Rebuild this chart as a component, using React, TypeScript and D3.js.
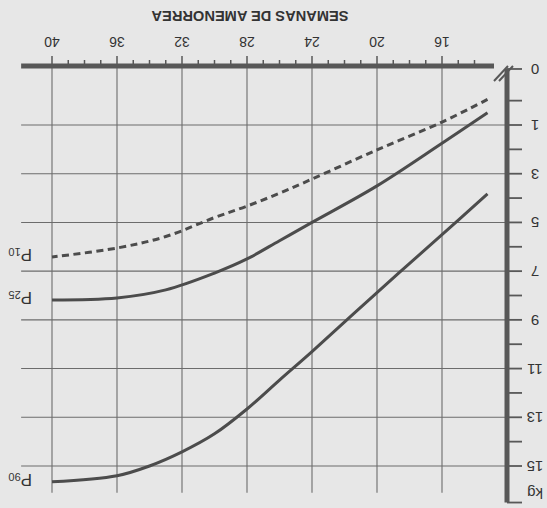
import React, { useEffect, useRef } from "react";
import * as d3 from "d3";

// percentile curves, weeks of amenorrhea -> kg gained
const weeksP10 = [40, 36, 33, 30, 28, 26, 24, 20, 16, 13.2];
const kgP10 = [6.42, 6.05, 5.58, 4.8, 4.33, 3.8, 3.22, 2.02, 0.88, -0.05];
const weeksP25 = [40, 36, 33, 30, 28, 26, 24, 20, 16, 13.2];
const kgP25 = [8.18, 8.1, 7.77, 7.08, 6.5, 5.75, 5.0, 3.5, 1.75, 0.5];
const weeksP90 = [40, 36, 34, 32, 30, 28, 26, 24, 20, 16, 13.2];
const kgP90 = [15.65, 15.4, 15.0, 14.42, 13.68, 12.66, 11.47, 10.3, 7.88, 5.5, 3.83];

const weekTicks = [16, 20, 24, 28, 32, 36, 40];
const kgTicks = [1, 3, 5, 7, 9, 11, 13, 15];
const kgMinorTicks = [0, 2, 4, 6, 8, 10, 12, 14];

const App = () => {
    const svgRef = useRef<SVGSVGElement>(null);

    useEffect(() => {
        const svg = d3.select(svgRef.current);
        svg.selectAll("*").remove();

        const width = 547;
        const height = 508;
        const axisColor = "#585858";
        const gridColor = "#6c6c6c";
        const curveColor = "#4c4c4c";
        const textColor = "#333333";
        const font = "'Liberation Sans', Arial, Helvetica, sans-serif";

        const kgMin = -1.3; // axis start, labelled "0"
        const kgMax = 16.5; // axis end, labelled "kg"

        const xScale = d3.scaleLinear().domain([12, 40]).range([40, 495]);
        const yScale = d3.scaleLinear().domain([1, 15]).range([383, 42]);
        const xAxisY = yScale(kgMin) + 3;

        svg.attr("width", width).attr("height", height);
        svg.append("rect").attr("width", width).attr("height", height).attr("fill", "#e7e7e7");

        // the scanned page is upside down
        const g = svg.append("g").attr("transform", `rotate(180, ${width / 2}, ${height / 2})`);

        // grid
        g.selectAll(".hgrid")
            .data(kgTicks)
            .enter()
            .append("line")
            .attr("x1", xScale(12))
            .attr("x2", xScale(41.9))
            .attr("y1", (d) => yScale(d))
            .attr("y2", (d) => yScale(d))
            .style("stroke", gridColor)
            .style("stroke-width", 1.1);

        g.selectAll(".vgrid")
            .data(weekTicks)
            .enter()
            .append("line")
            .attr("x1", (d) => xScale(d))
            .attr("x2", (d) => xScale(d))
            .attr("y1", xAxisY)
            .attr("y2", yScale(16.1))
            .style("stroke", gridColor)
            .style("stroke-width", 1.1);

        // curves
        const line = d3
            .line<[number, number]>()
            .x((d) => xScale(d[0]))
            .y((d) => yScale(d[1]))
            .curve(d3.curveCatmullRom.alpha(0.5));

        const series = [
            { weeks: weeksP10, kg: kgP10, label: "10", dashed: true },
            { weeks: weeksP25, kg: kgP25, label: "25", dashed: false },
            { weeks: weeksP90, kg: kgP90, label: "90", dashed: false },
        ];

        for (let s of series) {
            const pts = s.weeks.map((w, i) => [w, s.kg[i]] as [number, number]).sort((a, b) => a[0] - b[0]);
            g.append("path")
                .attr("d", line(pts))
                .style("fill", "none")
                .style("stroke", curveColor)
                .style("stroke-width", 3)
                .style("stroke-dasharray", s.dashed ? "7,4.5" : null);

            const label = g
                .append("text")
                .attr("x", xScale(40) + 20)
                .attr("y", yScale(s.kg[0]) + 8)
                .style("font-family", font)
                .style("fill", textColor);
            label.append("tspan").style("font-size", "17px").text("P");
            label.append("tspan").attr("dy", 1).style("font-size", "11px").text(s.label);
        }

        // x axis
        g.append("line")
            .attr("x1", xScale(12.8))
            .attr("x2", xScale(41.9))
            .attr("y1", xAxisY)
            .attr("y2", xAxisY)
            .style("stroke", axisColor)
            .style("stroke-width", 5);

        g.selectAll(".xtick")
            .data(d3.range(14, 41))
            .enter()
            .append("line")
            .attr("x1", (d) => xScale(d))
            .attr("x2", (d) => xScale(d))
            .attr("y1", xAxisY)
            .attr("y2", (d) => xAxisY + (d % 4 === 0 ? 10 : 6))
            .style("stroke", axisColor)
            .style("stroke-width", 1.5);

        g.selectAll(".xlabel")
            .data(weekTicks)
            .enter()
            .append("text")
            .attr("x", (d) => xScale(d))
            .attr("y", xAxisY + 29)
            .style("text-anchor", "middle")
            .style("font-family", font)
            .style("font-size", "14px")
            .style("fill", textColor)
            .text((d) => d);

        g.append("text")
            .attr("x", 297)
            .attr("y", xAxisY + 55)
            .attr("textLength", 197)
            .attr("lengthAdjust", "spacingAndGlyphs")
            .style("text-anchor", "middle")
            .style("font-family", font)
            .style("font-weight", "bold")
            .style("font-size", "15px")
            .style("fill", textColor)
            .text("SEMANAS DE AMENORREA");

        // axis break
        for (let k = 0; k < 2; k++) {
            g.append("line")
                .attr("x1", 34 + k * 5)
                .attr("y1", xAxisY)
                .attr("x2", 48 + k * 5)
                .attr("y2", xAxisY - 15)
                .style("stroke", axisColor)
                .style("stroke-width", 2);
        }

        // y axis
        const yAxisX = xScale(12);
        g.append("line")
            .attr("x1", yAxisX)
            .attr("x2", yAxisX)
            .attr("y1", yScale(kgMin))
            .attr("y2", yScale(kgMax))
            .style("stroke", axisColor)
            .style("stroke-width", 5);

        const yTickValues = [kgMin, ...kgMinorTicks, ...kgTicks, kgMax];
        g.selectAll(".ytick")
            .data(yTickValues)
            .enter()
            .append("line")
            .attr("x1", yAxisX)
            .attr("x2", yAxisX - 15)
            .attr("y1", (d) => yScale(d))
            .attr("y2", (d) => yScale(d))
            .style("stroke", axisColor)
            .style("stroke-width", 1.8);

        const yLabels = [
            { v: kgMin, t: "0" },
            ...kgTicks.map((v) => ({ v, t: String(v) })),
            { v: kgMax, t: "kg" },
        ];
        g.selectAll(".ylabel")
            .data(yLabels)
            .enter()
            .append("text")
            .attr("x", 12)
            .attr("y", (d) => yScale(d.v) + (d.t === "kg" ? 15 : 5))
            .style("text-anchor", "middle")
            .style("font-family", font)
            .style("font-size", "15px")
            .style("fill", textColor)
            .text((d) => d.t);
    }, []);

    return <svg ref={svgRef} style={{ position: "absolute", left: 0, top: 0 }}></svg>;
};

export default App;
